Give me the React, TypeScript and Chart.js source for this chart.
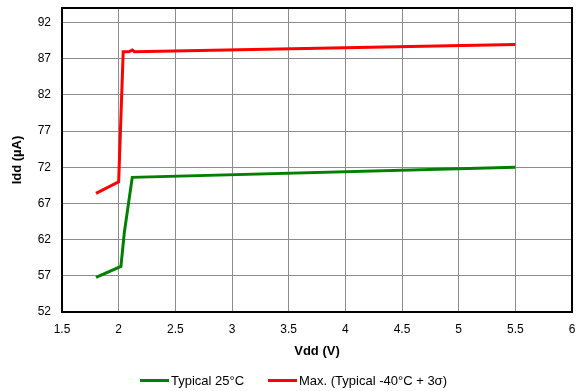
import React, { useEffect, useRef } from "react";
import { Chart, registerables } from "chart.js";

Chart.register(...registerables);

const vddTypical = [1.8, 2.02, 2.05, 2.12, 5.5];
const iddTypical = [56.8, 58.3, 63.0, 70.6, 72.0];
const vddMax = [1.8, 2.0, 2.04, 2.09, 2.12, 2.14, 5.5];
const iddMax = [68.4, 70.0, 87.95, 87.95, 88.2, 87.95, 88.95];
const yTicks = [52, 57, 62, 67, 72, 77, 82, 87, 92];
const seriesNames = ["Typical 25°C", "Max. (Typical -40°C + 3σ)"];
const seriesColors = ["#008000", "#ff0000"];

const FONT = "'Liberation Sans', Arial, sans-serif";

const frame = {
  id: "frame",
  afterDraw(chart: any) {
    const { ctx, chartArea: a } = chart;
    ctx.save();
    ctx.strokeStyle = "#000";
    ctx.lineWidth = 2;
    ctx.strokeRect(a.left, a.top, a.right - a.left, a.bottom - a.top);
    ctx.restore();
  },
};

export default function App() {
  const ref = useRef<HTMLCanvasElement>(null);
  useEffect(() => {
    document.body.style.margin = "0";
    const chart = new Chart(ref.current!, {
      type: "line",
      data: {
        datasets: [
          {
            label: seriesNames[0],
            data: vddTypical.map((x, i) => ({ x, y: iddTypical[i] })),
            borderColor: seriesColors[0],
            backgroundColor: seriesColors[0],
            borderWidth: 3,
            pointRadius: 0,
            tension: 0,
          },
          {
            label: seriesNames[1],
            data: vddMax.map((x, i) => ({ x, y: iddMax[i] })),
            borderColor: seriesColors[1],
            backgroundColor: seriesColors[1],
            borderWidth: 3,
            pointRadius: 0,
            tension: 0,
          },
        ],
      },
      plugins: [frame],
      options: {
        animation: false,
        responsive: false,
        layout: { padding: { top: 8, right: 6, left: 0, bottom: 29 } },
        plugins: {
          tooltip: { enabled: false },
          legend: { display: false },
        },
        scales: {
          x: {
            type: "linear",
            min: 1.5,
            max: 6,
            ticks: {
              stepSize: 0.5,
              color: "#000",
              font: { family: FONT, size: 12 },
              padding: 10,
              callback: (v: any) => String(Number(v)),
            },
            grid: { color: "#8c8c8c", lineWidth: 1, drawTicks: false },
            border: { display: false },
            title: {
              display: true,
              text: "Vdd (V)",
              color: "#000",
              font: { family: FONT, size: 13, weight: "bold" },
              padding: { top: 4, bottom: 3 },
            },
            afterFit(s: any) {
              s.height = 50;
              s.paddingLeft = 0;
              s.paddingRight = 0;
            },
          },
          y: {
            type: "linear",
            min: 52,
            max: 94,
            afterBuildTicks(s: any) { s.ticks = yTicks.map((v) => ({ value: v })); },
            ticks: { color: "#000", font: { family: FONT, size: 12 }, padding: 11 },
            grid: { color: "#8c8c8c", lineWidth: 1, drawTicks: false },
            border: { display: false },
            title: {
              display: true,
              text: "Idd (µA)",
              color: "#000",
              font: { family: FONT, size: 13, weight: "bold" },
              padding: { top: 10, bottom: 4 },
            },
            afterFit(s: any) {
              s.width = 62;
              s.paddingTop = 0;
              s.paddingBottom = 0;
            },
          },
        },
      },
    });
    return () => chart.destroy();
  }, []);
  const item = (i: number, left: number) => (
    <div
      key={i}
      style={{
        position: "absolute",
        left,
        top: 372,
        height: 17,
        display: "flex",
        alignItems: "center",
        font: `13px ${FONT}`,
        color: "#000",
        whiteSpace: "nowrap",
      }}
    >
      <span style={{ display: "inline-block", width: 29, height: 3, background: seriesColors[i], marginRight: 2 }} />
      <span>{seriesNames[i]}</span>
    </div>
  );
  return (
    <div style={{ position: "absolute", left: 0, top: 0, width: 578, height: 391, background: "#fff" }}>
      <canvas ref={ref} width={578} height={391} style={{ display: "block" }} />
      {item(0, 140)}
      {item(1, 268)}
    </div>
  );
}
